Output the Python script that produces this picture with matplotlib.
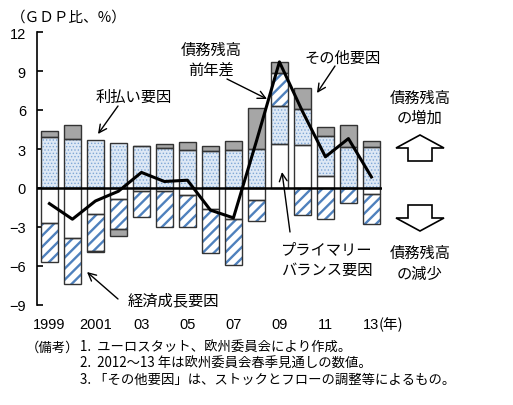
import numpy as np
import matplotlib
matplotlib.use("Agg")
import matplotlib.pyplot as plt
from matplotlib.patches import Polygon

plt.rcParams['font.family'] = ['Noto Sans CJK JP', 'DejaVu Sans']

# data (% of GDP)
years = list(range(1999, 2014))
tick_labels = ['1999', '', '2001', '', '03', '', '05', '', '07', '', '09', '', '11', '', '13']
primary = [-2.67, -3.87, -1.97, -0.87, -0.23, -0.23, -0.54, -1.59, -2.36, -0.95, 3.41, 3.28, 0.95, 0.0, -0.44]
interest = [3.95, 3.77, 3.72, 3.44, 3.25, 3.10, 2.92, 2.82, 2.95, 2.98, 2.92, 2.82, 3.08, 3.18, 3.18]
growth = [-3.05, -3.51, -2.90, -2.31, -2.03, -2.74, -2.43, -3.39, -3.56, -1.61, 2.49, -2.10, -2.36, -1.15, -2.36]
other = [0.45, 1.08, -0.05, -0.51, 0.0, 0.31, 0.59, 0.43, 0.65, 3.20, 0.90, 1.57, 0.64, 1.67, 0.46]
debt_change = [-1.2, -2.4, -1.0, -0.25, 1.2, 0.5, 0.6, -1.7, -2.3, 3.6, 9.7, 5.9, 2.4, 3.8, 0.85]

x = np.arange(len(years))
w = 0.76

fig = plt.figure(figsize=(5.13, 4.06), dpi=100)
ax = fig.add_axes([37/513, 1 - 306/406, (382-37)/513, (306-33)/406])

# components: (values, face, hatch, hatch colour, hatch lw)
comps = [
    (primary, 'white', None, 'white', 1.0),
    (interest, '#dde8f5', '.....', '#7fa7d6', 0.6),
    (growth, 'white', '///', '#4f81bd', 1.7),
    (other, '#a6a6a6', None, '#a6a6a6', 1.0),
]
pos = np.zeros(len(x))
neg = np.zeros(len(x))
for vals, face, hatch, hc, hlw in comps:
    v = np.array(vals)
    bottom = np.where(v >= 0, pos, neg)
    with plt.rc_context({'hatch.linewidth': hlw}):
        ax.bar(x, v, width=w, bottom=bottom, color=face, hatch=hatch,
               edgecolor=hc, linewidth=0, zorder=2)
    ax.bar(x, v, width=w, bottom=bottom, fill=False,
           edgecolor='#333333', linewidth=1.0, zorder=2.5)
    pos = pos + np.where(v >= 0, v, 0)
    neg = neg + np.where(v < 0, v, 0)

ax.axhline(0, color='black', lw=1.8, zorder=3)
ax.plot(x, debt_change, color='black', lw=2.2, zorder=4)

ax.set_xlim(-0.54, 14.46)
ax.set_ylim(-9, 12)
ax.set_yticks(np.arange(-9, 13, 3))
ax.set_xticks(x)
ax.set_xticklabels(tick_labels)
for s in ['top', 'right', 'bottom']:
    ax.spines[s].set_visible(False)
ax.spines['left'].set_linewidth(1.2)
ax.tick_params(axis='y', direction='in', length=4, width=1.2, pad=8,
               labelsize=10.5)
ax.tick_params(axis='x', length=0, pad=9, labelsize=10.5)
for lab in ax.get_xticklabels() + ax.get_yticklabels():
    lab.set_family(['Liberation Sans Narrow', 'Liberation Sans', 'DejaVu Sans'])

# overlay in pixel coordinates for notes
ov = fig.add_axes([0, 0, 1, 1], zorder=10)
ov.set_xlim(0, 513)
ov.set_ylim(406, 0)
ov.axis('off')

ov.text(379, 325, '(年)', fontsize=10.5, ha='left', va='center')
ov.text(69, 18, '（ＧＤＰ比、%）', fontsize=10.5, ha='center', va='center')

fs = 11
ov.text(211, 60, '債務残高\n前年差', fontsize=fs, ha='center', va='center', linespacing=1.25)
ov.text(134, 97, '利払い要因', fontsize=fs, ha='center', va='center')
ov.text(343, 58, 'その他要因', fontsize=fs, ha='center', va='center')
ov.text(420, 108, '債務残高\nの増加', fontsize=fs, ha='center', va='center', linespacing=1.25)
ov.text(327, 260, 'プライマリー\nバランス要因', fontsize=fs, ha='center', va='center', linespacing=1.25)
ov.text(420, 264, '債務残高\nの減少', fontsize=fs, ha='center', va='center', linespacing=1.25)
ov.text(173, 301, '経済成長要因', fontsize=fs, ha='center', va='center')

arrows = [((227, 80), (267, 100)), ((118, 107), (98, 135)), ((335, 67), (317, 94)),
          ((290, 233), (282, 173)), ((118, 300), (87, 273))]
for (x0, y0), (x1, y1) in arrows:
    ov.annotate('', xy=(x1, y1), xytext=(x0, y0),
                arrowprops=dict(arrowstyle='->', color='black', lw=1.0,
                                mutation_scale=14, shrinkA=0, shrinkB=0))

up = [(420, 136), (444, 149), (432, 149), (432, 162), (408, 162), (408, 149), (396, 149)]
down = [(408, 206), (432, 206), (432, 219), (444, 219), (420, 232), (396, 219), (408, 219)]
for pts in (up, down):
    ov.add_patch(Polygon(pts, closed=True, facecolor='white', edgecolor='black', lw=1.2))

nfs = 9.6
ov.text(26, 348, '（備考）', fontsize=nfs, ha='left', va='center')
ov.text(80, 348, '1.  ユーロスタット、欧州委員会により作成。', fontsize=nfs, ha='left', va='center')
ov.text(80, 364, '2.  2012～13 年は欧州委員会春季見通しの数値。', fontsize=nfs, ha='left', va='center')
ov.text(80, 380, '3. 「その他要因」は、ストックとフローの調整等によるもの。', fontsize=nfs, ha='left', va='center')

fig.savefig('out.png', dpi=100)
